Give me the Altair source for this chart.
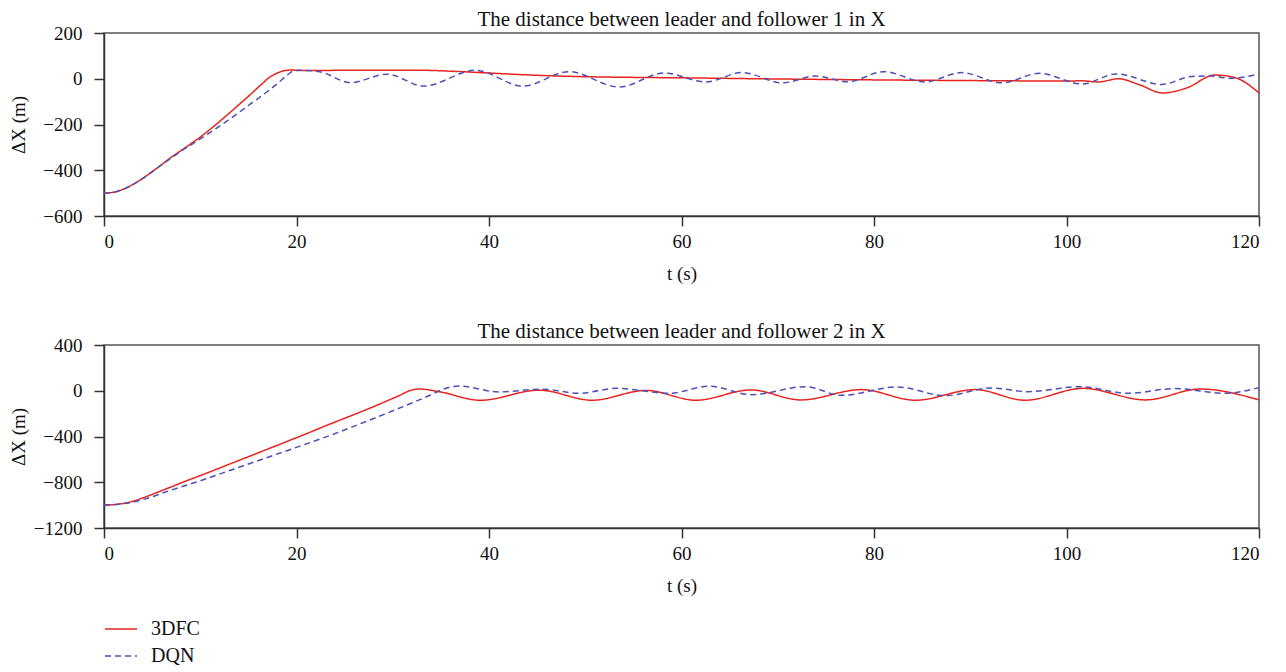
import altair as alt
import pandas as pd

# ---------------- data ----------------
series_names = ["3DFC", "DQN"]
panel_titles = ["The distance between leader and follower 1 in X",
                "The distance between leader and follower 2 in X"]

# Panel 1 - 3DFC
t1_3dfc = [0, 1, 2, 3, 4, 5, 6, 7, 8, 9, 10, 11, 12, 13, 14, 15, 16, 16.5, 17, 17.5, 18, 18.5,
           19, 19.5, 20.2, 22, 25, 30, 33, 36, 40, 45, 50, 55, 60, 70, 80, 90, 100, 101.5,
           103.3, 105.4, 107.5, 110, 112.5, 115.4, 117.5, 120]
x1_3dfc = [-500, -496, -483, -462, -436, -406, -375, -343, -314, -285, -255, -222, -187, -151,
           -114, -77, -38, -19, 0, 14, 25, 33, 37, 38, 37, 36, 37, 37, 37, 33, 25, 15, 9, 6, 4,
           -1, -5, -8, -10, -9, -14, 0, -25, -62, -40, 16, 5, -62]

# Panel 1 - DQN
t1_dqn = [0, 1, 2, 3, 4, 5, 6, 7, 8, 9, 10, 11, 12, 13, 14, 15, 16, 17, 18, 19, 19.8, 21, 22.5,
          25.6, 29.4, 33.2, 38.6, 43.5, 48.3, 53.5, 58.2, 62.5, 66.3, 70.5, 73.9, 77.3, 81,
          85.3, 89.1, 93.3, 97.2, 101.6, 105.2, 109.9, 113, 115, 117, 118.5, 120]
x1_dqn = [-500, -496, -483, -463, -437, -407, -376, -346, -317, -290, -263, -236, -207, -178,
          -148, -117, -87, -55, -22, 15, 36, 36, 30, -17, 20, -32, 37, -32, 31, -36, 25, -14,
          27, -18, 12, -13, 31, -14, 27, -18, 24, -23, 21, -25, 10, 12, 2, 8, 22]

# Panel 2 - 3DFC
t2_3dfc = [0, 1, 2, 3, 4, 5, 6, 7, 8, 9.9, 13.3, 16.8, 20.3, 23.7, 27.2, 30.6, 32, 32.8, 34.8,
           39.1, 45.2, 50.7, 56.3, 61.5, 67.2, 72.4, 78.7, 84.3, 90.5, 95.7, 101.7, 108.2,
           113.9, 120]
x2_3dfc = [-1000, -996, -985, -966, -938, -906, -873, -840, -806, -745, -633, -517, -400, -284,
           -167, -45, 7, 15, -8, -83, 5, -83, 3, -83, 7, -80, 10, -83, 10, -83, 21, -80, 15, -80]

# Panel 2 - DQN
t2_dqn = [0, 1.5, 2.9, 4.5, 6.4, 9.9, 13.3, 16.8, 20.3, 23.7, 27.2, 30.6, 33.8, 35.3, 36.9,
          41, 45.5, 49.4, 53.2, 58.7, 62.9, 67.3, 72.9, 76.6, 82.4, 87.4, 92.2, 96, 101.4,
          106.4, 111.3, 116.5, 120]
x2_dqn = [-1000, -992, -975, -940, -885, -790, -690, -588, -486, -384, -270, -155, -42, 15,
          42, -10, 13, -22, 21, -22, 39, -34, 36, -40, 33, -43, 24, -8, 36, -22, 19, -22, 27]

x_ticks = [0, 20, 40, 60, 80, 100, 120]
y1_ticks = [-600, -400, -200, 0, 200]
y2_ticks = [-1200, -800, -400, 0, 400]

RED = "#e8231d"
BLUE = "#4b50b8"
FONT = "Liberation Serif"


def frame(t3, v3, td, vd):
    a = pd.DataFrame({"t": t3, "dx": v3, "series": series_names[0], "order": range(len(t3))})
    b = pd.DataFrame({"t": td, "dx": vd, "series": series_names[1], "order": range(len(td))})
    return pd.concat([a, b], ignore_index=True)


df1 = frame(t1_3dfc, x1_3dfc, t1_dqn, x1_dqn)
df2 = frame(t2_3dfc, x2_3dfc, t2_dqn, x2_dqn)


def panel(df, title, ydom, yticks):
    legend = alt.Legend(
        title=None, orient="none", legendX=0, legendY=579, direction="vertical",
        symbolType="stroke", symbolSize=1024, symbolStrokeWidth=1.5,
        labelFont=FONT, labelFontSize=20, labelColor="#111", labelOffset=13,
        rowPadding=-7,
    )
    return alt.Chart(df).mark_line(interpolate="monotone", strokeWidth=1.5).encode(
        x=alt.X("t:Q", scale=alt.Scale(domain=[0, 120], nice=False, zero=False),
                axis=alt.Axis(values=x_ticks, title="t (s)", format="d", labelPadding=6,
                              titlePadding=13)),
        y=alt.Y("dx:Q", scale=alt.Scale(domain=ydom, nice=False, zero=False),
                axis=alt.Axis(values=yticks, title="ΔX (m)", format="d", labelPadding=12,
                              titleX=-76)),
        color=alt.Color("series:N",
                        scale=alt.Scale(domain=series_names, range=[RED, BLUE]),
                        legend=legend),
        strokeDash=alt.StrokeDash("series:N",
                                  scale=alt.Scale(domain=series_names, range=[[1, 0], [6, 4]]),
                                  legend=legend),
        order="order:Q",
        detail="series:N",
    ).properties(
        width=1155, height=183,
        title=alt.TitleParams(title, fontSize=21, font=FONT, fontWeight="normal",
                              color="#111", anchor="middle", offset=-6),
    )


top = panel(df1, panel_titles[0], [-600, 200], y1_ticks)
bottom = panel(df2, panel_titles[1], [-1200, 400], y2_ticks)

chart = alt.vconcat(top, bottom, spacing=36).resolve_scale(
    color="shared", strokeDash="shared"
).properties(
    padding={"left": 0, "top": 0, "right": 0, "bottom": 0}
).configure_view(
    stroke="#555", strokeWidth=1.5
).configure_axis(
    grid=False, domainColor="#333", domainWidth=1.5, tickColor="#333", tickWidth=1.5,
    tickSize=10, labelFont=FONT, labelFontSize=19, labelColor="#111",
    titleFont=FONT, titleFontSize=19, titleFontWeight="normal", titleColor="#111",
    titlePadding=10,
)

chart.save("out.html", embed_options={"renderer": "svg", "actions": False})
